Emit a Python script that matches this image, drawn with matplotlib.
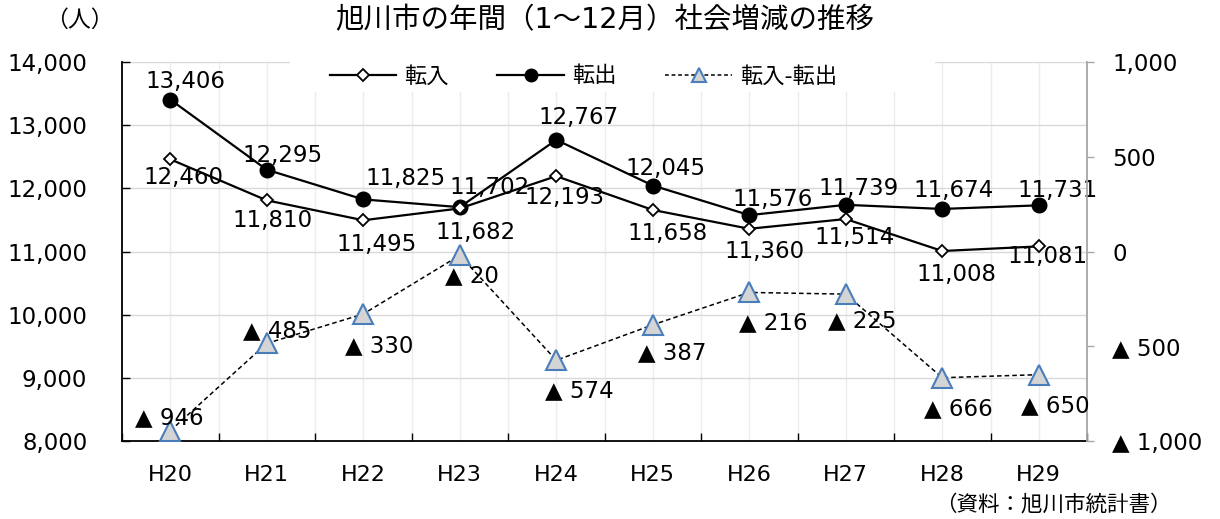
import numpy as np
import matplotlib
matplotlib.use("Agg")
import matplotlib.pyplot as plt
from matplotlib.lines import Line2D
from matplotlib.patches import Rectangle

plt.rcParams['font.family'] = ['DejaVu Sans', 'Noto Sans CJK JP']

# ---- data ----
years = ['H20', 'H21', 'H22', 'H23', 'H24', 'H25', 'H26', 'H27', 'H28', 'H29']
tennyu = [12460, 11810, 11495, 11682, 12193, 11658, 11360, 11514, 11008, 11081]      # 転入
tenshutsu = [13406, 12295, 11825, 11702, 12767, 12045, 11576, 11739, 11674, 11731]   # 転出
net = [-946, -485, -330, -20, -574, -387, -216, -225, -666, -650]                    # 転入-転出

left_ticks = [8000, 9000, 10000, 11000, 12000, 13000, 14000]
right_ticks = [-1000, -500, 0, 500, 1000]

# label offsets (pixels) from each point
off_out = [(15, 18), (16, 14), (42, 21), (30, 20), (22, 22), (13, 17), (23, 16), (13, 16), (11, 18), (19, 15)]
off_in = [(13, -18), (6, -20), (13, -24), (16, -24), (8, -21), (15, -24), (15, -23), (9, -18), (14, -23), (9, -10)]
off_net = [(-1, 13), (10, 13), (16, -32), (12, -20), (23, -30), (19, -28), (24, -30), (16, -27), (16, -31), (17, -31)]

def fmt_signed(v):
    if v < 0:
        return f"▲ {abs(v):,}"
    return f"{v:,}"

fig = plt.figure(figsize=(12.2, 5.19), dpi=100)
ax = fig.add_axes([0.1, 0.1503, 0.791, 0.7302])
ax2 = ax.twinx()

x = np.arange(len(years))
ax.set_xlim(-0.5, len(years) - 0.5)
ax.set_ylim(8000, 14000)
ax2.set_ylim(-1000, 1000)

# grid
ax.set_yticks(left_ticks)
ax.set_yticklabels([f"{v:,}" for v in left_ticks])
ax.grid(axis='y', color='#d9d9d9', lw=1.0, zorder=0)
ax.vlines(np.arange(0, len(years) - 0.4, 0.5), 8000, 14000, color='#ececec', lw=1.0, zorder=0)
ax.set_axisbelow(True)

# white backing behind the legend
ax.add_patch(Rectangle((0.174, 0.921), 0.6685, 0.085, transform=ax.transAxes,
                       facecolor='white', edgecolor='none', zorder=1, clip_on=False))

# spines
ax.spines['top'].set_visible(False)
ax.spines['right'].set_visible(False)
ax.spines['left'].set_linewidth(1.3)
ax.spines['bottom'].set_linewidth(1.3)
for s in ['top', 'left', 'bottom']:
    ax2.spines[s].set_visible(False)
ax2.spines['right'].set_color('#a6a6a6')
ax2.spines['right'].set_linewidth(1.3)

# ticks
ax.tick_params(axis='y', direction='in', length=6, width=1.0, pad=25, labelsize=16.5)
ax.set_xticks(np.arange(-0.5, len(years), 1.0))
ax.tick_params(axis='x', which='major', direction='in', length=6, width=1.0, labelbottom=False)
ax.set_xticks(x, minor=True)
ax.set_xticklabels(years, minor=True)
ax.tick_params(axis='x', which='minor', length=0, pad=17, labelsize=16)

ax2.set_yticks(right_ticks)
ax2.set_yticklabels([fmt_signed(v) if v != 0 else "0" for v in right_ticks])
ax2.tick_params(axis='y', direction='out', length=5, width=1.0, color='#a6a6a6', pad=13, labelsize=16.5)

# series
ax.plot(x, tenshutsu, color='black', lw=1.6, marker='o', markersize=10.5,
        markerfacecolor='black', markeredgecolor='black', zorder=3)
ax.plot(x, tennyu, color='black', lw=1.6, marker='D', markersize=6.5,
        markerfacecolor='white', markeredgecolor='black', markeredgewidth=1.3, zorder=4)
ax2.plot(x, net, color='black', lw=1.1, ls=(0, (3, 2)), marker='^', markersize=14,
         markerfacecolor='#d4d4d4', markeredgecolor='#4a7ebb', markeredgewidth=1.5, zorder=3)

# data labels
for i, v in enumerate(tenshutsu):
    ax.annotate(f"{v:,}", (x[i], v), xytext=off_out[i], textcoords='offset pixels',
                ha='center', va='center', fontsize=16.5, zorder=6)
for i, v in enumerate(tennyu):
    ax.annotate(f"{v:,}", (x[i], v), xytext=off_in[i], textcoords='offset pixels',
                ha='center', va='center', fontsize=16.5, zorder=6)
for i, v in enumerate(net):
    ax2.annotate(fmt_signed(v), (x[i], v), xytext=off_net[i], textcoords='offset pixels',
                 ha='center', va='center', fontsize=16.5, zorder=6)

# legend
handles = [
    Line2D([], [], color='black', lw=1.6, marker='D', markersize=6.5,
           markerfacecolor='white', markeredgecolor='black', markeredgewidth=1.3),
    Line2D([], [], color='black', lw=1.6, marker='o', markersize=9,
           markerfacecolor='black', markeredgecolor='black'),
    Line2D([], [], color='black', lw=1.1, ls=(0, (2.5, 1.8)), marker='^', markersize=9.5,
           markerfacecolor='#d4d4d4', markeredgecolor='#4a7ebb', markeredgewidth=1.5),
]
leg = ax2.legend(handles, ['転入', '転出', '転入-転出'], ncol=3, loc='center',
                 bbox_to_anchor=(0.478, 0.963), fontsize=16, frameon=False,
                 handlelength=3.0, handletextpad=0.35, columnspacing=2.2,
                 borderpad=0.3)
leg.set_zorder(10)

# titles and notes
fig.text(0.496, 0.961, '旭川市の年間（1～12月）社会増減の推移', ha='center', va='center', fontsize=20.5)
fig.text(79 / 1220, 0.961, '（人）', ha='center', va='center', fontsize=16.5)
fig.text(1172 / 1220, 14 / 519, '（資料：旭川市統計書）', ha='right', va='center', fontsize=15.5)

fig.savefig('out.png', dpi=100)
